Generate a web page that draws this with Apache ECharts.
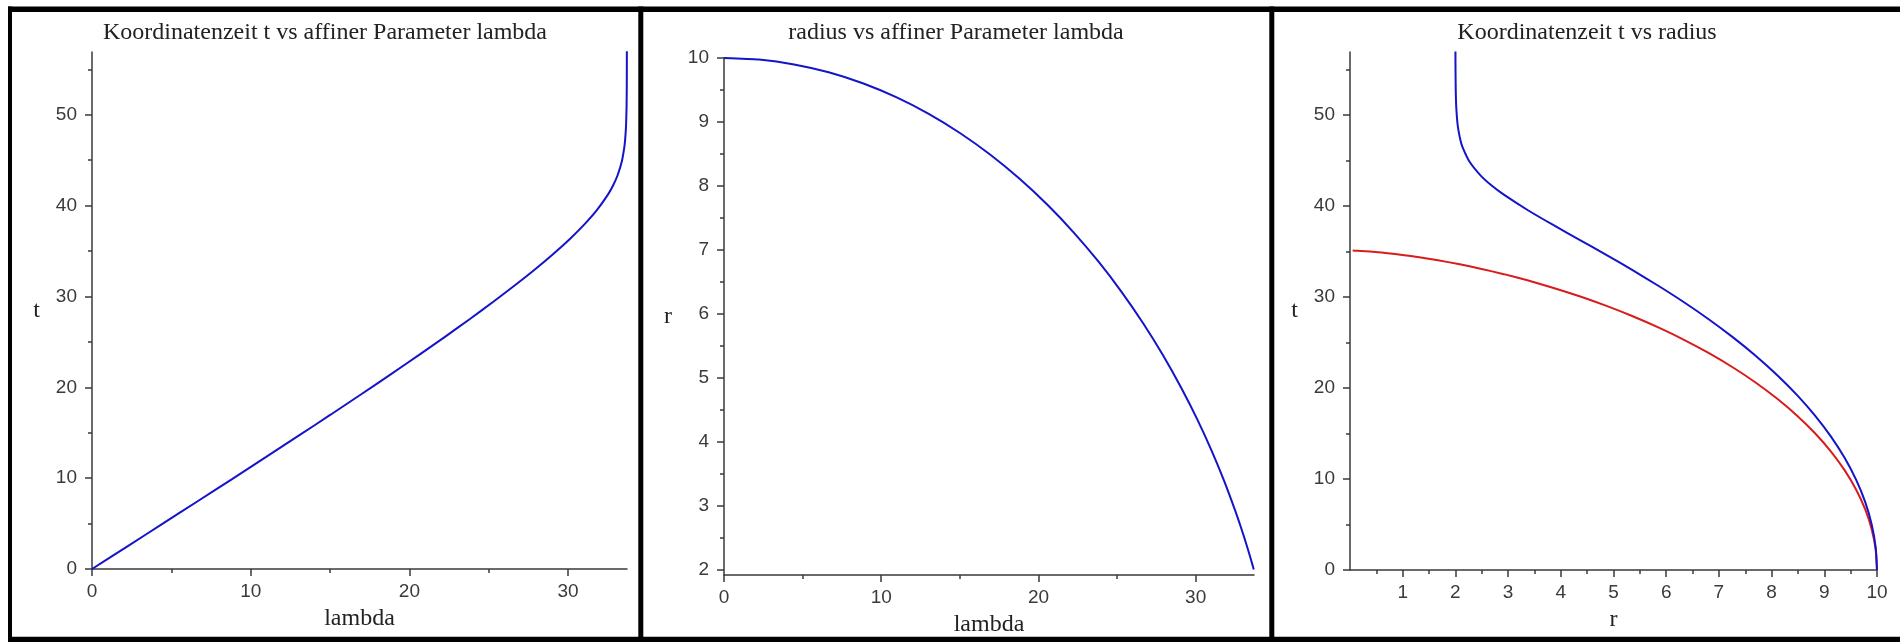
<!DOCTYPE html>
<html>
<head>
<meta charset="utf-8">
<script src="https://cdn.jsdelivr.net/npm/echarts@6/dist/echarts.min.js"></script>
<style>
  html, body { margin: 0; padding: 0; background: #fff; }
  #chart { width: 1900px; height: 642px; }
</style>
</head>
<body>
<div id="chart"></div>
<script>
// radial fall from r = 10
const lambdaVals = [0, 2.234, 4.457, 6.658, 8.826, 10.950, 13.021, 15.029, 16.964, 18.820, 20.588, 22.262, 23.836, 25.307, 26.669, 27.923, 29.063, 30.094, 31.012, 31.822, 32.526, 32.840, 33.129, 33.394, 33.542, 33.590, 33.636, 33.659, 33.682, 33.691, 33.696, 33.700, 33.701]
const tVals = [0, 2.498, 4.988, 7.458, 9.901, 12.308, 14.670, 16.981, 19.232, 21.419, 23.536, 25.579, 27.546, 29.436, 31.251, 32.994, 34.673, 36.302, 37.905, 39.526, 41.261, 42.237, 43.392, 44.939, 46.435, 47.197, 48.331, 49.229, 50.808, 52.075, 53.224, 56.178, 56.993]
const rVals = [10, 9.975, 9.900, 9.777, 9.605, 9.388, 9.127, 8.824, 8.484, 8.108, 7.702, 7.268, 6.812, 6.338, 5.850, 5.354, 4.854, 4.356, 3.864, 3.384, 2.919, 2.694, 2.476, 2.263, 2.139, 2.098, 2.058, 2.037, 2.017, 2.009, 2.005, 2.001, 2.001]

// red curve of the third plot (goes on past r = 2)
const redR = [10, 9.975, 9.900, 9.777, 9.605, 9.388, 9.127, 8.824, 8.484, 8.108, 7.702, 7.268, 6.812, 6.338, 5.850, 5.354, 4.854, 4.356, 3.864, 3.384, 2.919, 2.476, 2.058, 1.669, 1.313, 0.994, 0.716, 0.480, 0.289, 0.145, 0.050]
const redT = [0, 2.234, 4.457, 6.658, 8.826, 10.950, 13.021, 15.029, 16.964, 18.820, 20.588, 22.262, 23.836, 25.307, 26.669, 27.923, 29.063, 30.094, 31.012, 31.822, 32.526, 33.129, 33.636, 34.052, 34.384, 34.642, 34.831, 34.965, 35.049, 35.098, 35.118]

// ticks
const tTicks = [0, 10, 20, 30, 40, 50]
const tMinor = [5, 15, 25, 35, 45, 55]
const lambdaTicks = [0, 10, 20, 30]
const lambdaMinor = [5, 15, 25]
const rTicks = [2, 3, 4, 5, 6, 7, 8, 9, 10]
const rMinor = [2.5, 3.5, 4.5, 5.5, 6.5, 7.5, 8.5, 9.5]
const rxTicks = [1, 2, 3, 4, 5, 6, 7, 8, 9, 10]
const rxMinor = [0.5, 1.5, 2.5, 3.5, 4.5, 5.5, 6.5, 7.5, 8.5, 9.5]

const titles = ['Koordinatenzeit t vs affiner Parameter lambda', 'radius vs affiner Parameter lambda', 'Koordinatenzeit t vs radius']

const AXIS = '#3a3a3a'
const SERIF = 'Liberation Serif'
const SANS = 'Liberation Sans'

function zip(xs, ys) {
  return xs.map((x, i) => [x, ys[i]])
}

// axis with labels and long ticks
function majorAxis(grid, min, max, ticks, isY, name, nameGap) {
  return {
    type: 'value',
    gridIndex: grid,
    min: min,
    max: max,
    position: isY ? 'left' : 'bottom',
    name: name,
    nameLocation: 'middle',
    nameGap: nameGap,
    nameRotate: 0,
    nameTextStyle: { fontFamily: SERIF, fontSize: 24, color: '#222' },
    axisLine: { show: true, onZero: false, lineStyle: { color: AXIS, width: 1.5 } },
    axisTick: { show: true, length: 7, customValues: ticks, lineStyle: { color: AXIS, width: 1.5 } },
    axisLabel: { show: true, customValues: ticks, margin: isY ? 15 : 13, fontFamily: SANS, fontSize: 19, color: AXIS },
    splitLine: { show: false },
    minorTick: { show: false }
  }
}

// second axis on the same place, only the short ticks
function minorAxis(grid, min, max, ticks, isY) {
  return {
    type: 'value',
    gridIndex: grid,
    min: min,
    max: max,
    position: isY ? 'left' : 'bottom',
    offset: 0,
    axisLine: { show: false, onZero: false },
    axisTick: { show: true, length: 4, customValues: ticks, lineStyle: { color: AXIS, width: 1.5 } },
    axisLabel: { show: false },
    splitLine: { show: false }
  }
}

function lineSeries(xi, yi, data, color) {
  return {
    type: 'line',
    xAxisIndex: xi,
    yAxisIndex: yi,
    data: data,
    showSymbol: false,
    symbol: 'none',
    smooth: 0.2,
    clip: true,
    lineStyle: { color: color, width: 2 },
    silent: true
  }
}

function borderRect(x, y, w, h) {
  return { type: 'rect', shape: { x: x, y: y, width: w, height: h }, style: { fill: '#000' }, silent: true }
}

function titleText(text, cx) {
  return {
    type: 'text',
    x: cx,
    y: 33,
    style: { text: text, align: 'center', verticalAlign: 'middle', fontFamily: SERIF, fontSize: 24, fill: '#222' },
    silent: true
  }
}

const chart = echarts.init(document.getElementById('chart'), null, { renderer: 'canvas' })

const option = {
  animation: false,
  backgroundColor: '#fff',
  grid: [
    { left: 92, top: 52, width: 535, height: 517, containLabel: false, outerBoundsMode: 'none' },
    { left: 724, top: 58, width: 530, height: 517, containLabel: false, outerBoundsMode: 'none' },
    { left: 1350, top: 52, width: 527, height: 518, containLabel: false, outerBoundsMode: 'none' }
  ],
  xAxis: [
    majorAxis(0, 0, 33.71, lambdaTicks, false, 'lambda', 38),
    minorAxis(0, 0, 33.71, lambdaMinor, false),
    majorAxis(1, 0, 33.71, lambdaTicks, false, 'lambda', 38),
    minorAxis(1, 0, 33.71, lambdaMinor, false),
    majorAxis(2, 0, 10, rxTicks, false, 'r', 38),
    minorAxis(2, 0, 10, rxMinor, false)
  ],
  yAxis: [
    majorAxis(0, 0, 56.9, tTicks, true, 't', 52),
    minorAxis(0, 0, 56.9, tMinor, true),
    majorAxis(1, 1.92, 10, rTicks, true, 'r', 52),
    minorAxis(1, 1.92, 10, rMinor, true),
    majorAxis(2, 0, 56.95, tTicks, true, 't', 52),
    minorAxis(2, 0, 56.95, tMinor, true)
  ],
  series: [
    lineSeries(0, 0, zip(lambdaVals, tVals), '#1414c8'),
    lineSeries(2, 2, zip(lambdaVals, rVals), '#1414c8'),
    lineSeries(4, 4, zip(redR, redT), '#d81c1c'),
    lineSeries(4, 4, zip(rVals, tVals), '#1414c8')
  ],
  graphic: [
    titleText(titles[0], 325),
    titleText(titles[1], 956),
    titleText(titles[2], 1587),
    // black frames round the three plots
    borderRect(8, 6.5, 1892, 5.5),
    borderRect(8, 6.5, 4, 635.5),
    borderRect(638.3, 6.5, 5, 635.5),
    borderRect(1269.3, 6.5, 5, 635.5),
    borderRect(8, 636.7, 1892, 5.3)
  ]
}

chart.setOption(option)
</script>
</body>
</html>
